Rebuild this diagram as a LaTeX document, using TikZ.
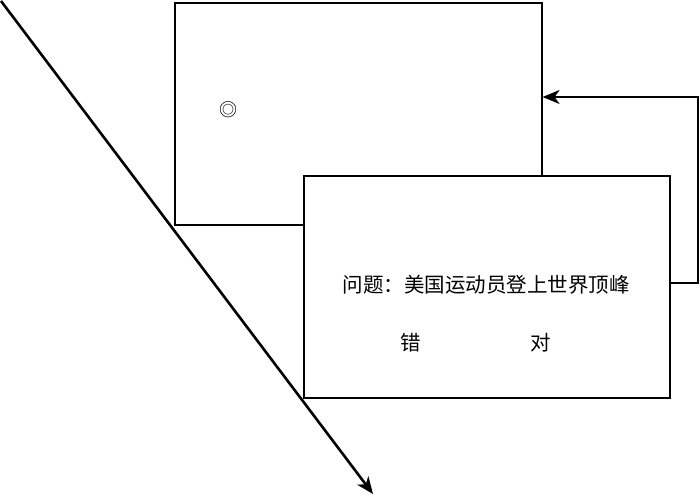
\documentclass[tikz,border=0pt]{standalone}
\usepackage{fontspec}
\newfontfamily\cjk{Noto Sans CJK SC}
\usetikzlibrary{arrows.meta}
\begin{document}
\begin{tikzpicture}[x=1pt,y=-1pt,
  card/.style={draw=black,line width=1.6pt,fill=white},
  lbl/.style={font=\cjk\fontsize{20.5}{24}\selectfont,inner sep=0pt},
  tip/.style={-{Stealth[length=17pt,width=14pt,inset=5pt]}}]
\useasboundingbox (0,0) rectangle (700,495);
\coordinate (ds) at (1,1);
\coordinate (de) at (373,494);
\draw[line width=2.6pt,tip] (ds) -- (de);
\node[card,minimum width=367pt,minimum height=222pt,anchor=north west] (back) at (174,2) {};
\node[font=\cjk\fontsize{18}{20}\selectfont,inner sep=0pt] (mark) at (228,110) {◎};
\node[card,minimum width=366pt,minimum height=222pt,anchor=north west] (front) at (303,175) {};
\node[lbl] (q) at (486,285) {问题：美国运动员登上世界顶峰};
\node[lbl] (wrong) at (411,343) {错};
\node[lbl] (right) at (541,343) {对};
\coordinate (c1) at (698,283);
\coordinate (c2) at (698,97);
\draw[line width=1.6pt,tip] (front.east |- c1) -- (c1) -- (c2) -- (back.east |- c2);
\end{tikzpicture}
\end{document}
